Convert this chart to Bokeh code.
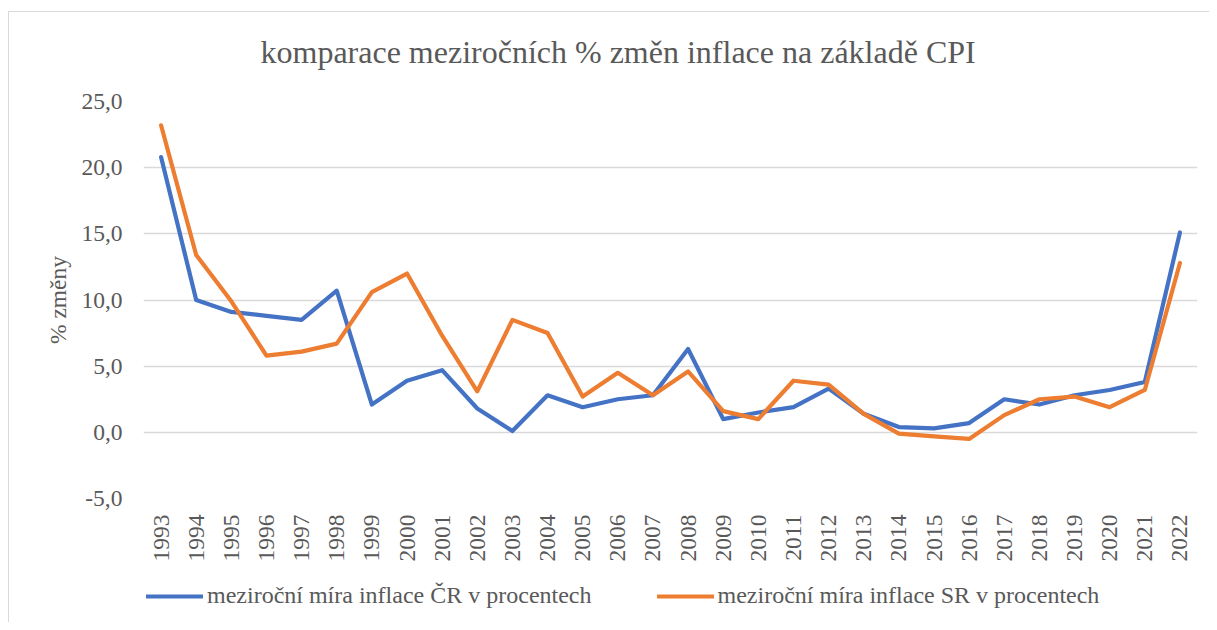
import math
from bokeh.plotting import figure
from bokeh.layouts import column
from bokeh.models import (FactorRange, Range1d, FixedTicker, CustomJSTickFormatter,
                          Legend, LegendItem, ColumnDataSource)
from bokeh.embed import file_html
from bokeh.resources import INLINE

years = [str(y) for y in range(1993, 2023)]
cz = [20.8, 10.0, 9.1, 8.8, 8.5, 10.7, 2.1, 3.9, 4.7, 1.8, 0.1, 2.8, 1.9, 2.5, 2.8,
      6.3, 1.0, 1.5, 1.9, 3.3, 1.4, 0.4, 0.3, 0.7, 2.5, 2.1, 2.8, 3.2, 3.8, 15.1]
sk = [23.2, 13.4, 9.9, 5.8, 6.1, 6.7, 10.6, 12.0, 7.3, 3.1, 8.5, 7.5, 2.7, 4.5, 2.8,
      4.6, 1.6, 1.0, 3.9, 3.6, 1.4, -0.1, -0.3, -0.5, 1.3, 2.5, 2.7, 1.9, 3.2, 12.8]
y_ticks = [-5, 0, 5, 10, 15, 20, 25]
title_text = "komparace meziročních % změn inflace na základě CPI"
y_label = "% změny"
name_cz = "meziroční míra inflace ČR v procentech"
name_sk = "meziroční míra inflace SR v procentech"

FONT = "Liberation Serif"
GRAY = "#595959"
BLUE = "#4472C4"
ORANGE = "#ED7D31"
EDGE = "#d9d9d9"
FS = "23.5px"

src = ColumnDataSource(dict(year=years, cz=cz, sk=sk))

p = figure(width=1209, height=570, x_range=FactorRange(*years), y_range=Range1d(-5, 25),
           output_backend="svg", toolbar_location=None,
           min_border_left=143, min_border_right=12, min_border_top=101, min_border_bottom=72)
p.outline_line_color = None
p.background_fill_color = "white"
p.border_fill_alpha = 0
p.styles = {
    "background": (f"linear-gradient({EDGE},{EDGE}) 8px 11px / 1px 100% no-repeat, "
                   f"linear-gradient({EDGE},{EDGE}) 8px 11px / 100% 1px no-repeat, white"),
}

p.title.text = title_text
p.title.align = "left"
p.title.offset = 117
p.title.text_font = FONT
p.title.text_font_size = "32px"
p.title.text_font_style = "normal"
p.title.text_color = GRAY
p.title.standoff = 63

p.xgrid.grid_line_color = None
p.ygrid.grid_line_color = EDGE
p.ygrid.grid_line_width = 1.3

p.yaxis.ticker = FixedTicker(ticks=y_ticks)
p.yaxis.formatter = CustomJSTickFormatter(code="return tick.toFixed(1).replace('.', ',');")
for ax in (p.xaxis[0], p.yaxis[0]):
    ax.axis_line_color = None
    ax.major_tick_line_color = None
    ax.minor_tick_line_color = None
    ax.major_label_text_font = FONT
    ax.major_label_text_font_size = FS
    ax.major_label_text_color = GRAY
p.yaxis.major_label_standoff = 15
p.xaxis.major_label_standoff = 10
p.xaxis.major_label_orientation = math.pi / 2
p.yaxis.axis_label = y_label
p.yaxis.axis_label_text_font = FONT
p.yaxis.axis_label_text_font_size = FS
p.yaxis.axis_label_text_font_style = "normal"
p.yaxis.axis_label_text_color = GRAY
p.yaxis.axis_label_standoff = 7

r_cz = p.line("year", "cz", source=src, line_color=BLUE, line_width=4.2,
              line_join="round", line_cap="round")
r_sk = p.line("year", "sk", source=src, line_color=ORANGE, line_width=4.2,
              line_join="round", line_cap="round")

# legend strip below the chart (same series drawn off-frame, only their legend shows)
q = figure(width=1209, height=52, x_range=p.x_range, y_range=Range1d(1000, 1001),
           output_backend="svg", toolbar_location=None,
           min_border_left=0, min_border_right=0, min_border_top=0, min_border_bottom=0)
q.axis.visible = False
q.grid.grid_line_color = None
q.outline_line_color = None
q.background_fill_alpha = 0
q.border_fill_alpha = 0
q.styles = {"background": f"linear-gradient({EDGE},{EDGE}) 8px 0px / 1px 100% no-repeat, white"}
l_cz = q.line("year", "cz", source=src, line_color=BLUE, line_width=4.2, line_cap="round")
l_sk = q.line("year", "sk", source=src, line_color=ORANGE, line_width=4.2, line_cap="round")
legend = Legend(items=[LegendItem(label=name_cz, renderers=[l_cz]),
                       LegendItem(label=name_sk, renderers=[l_sk])],
                orientation="horizontal", location=(3, 13),
                glyph_width=57, glyph_height=22, label_height=22, label_standoff=4,
                spacing=65, padding=0, margin=0, border_line_color=None,
                background_fill_alpha=0,
                label_text_font=FONT, label_text_font_size="24px",
                label_text_color=GRAY)
q.add_layout(legend, "center")

layout = column(p, q, spacing=0)
open("out.html", "w").write(file_html(layout, INLINE))
